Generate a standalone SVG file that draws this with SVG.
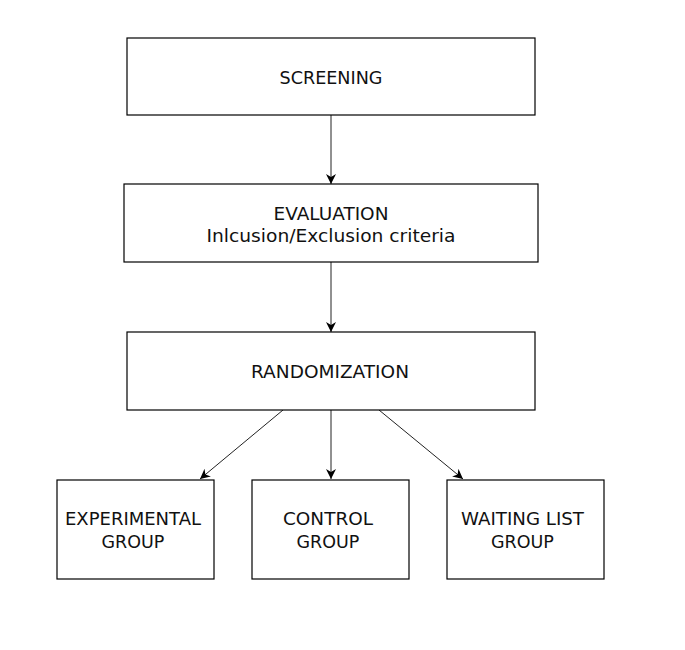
<svg xmlns="http://www.w3.org/2000/svg" width="685" height="650" viewBox="0 0 685 650">
<style>
.box{fill:#fff;stroke:#000;stroke-width:1.2}
.t{font-family:"DejaVu Sans",sans-serif;font-size:17.5px;fill:#111;text-anchor:middle}
.c{stroke:#222;stroke-width:1;fill:none;marker-end:url(#ah)}
</style>
<defs>
<marker id="ah" viewBox="0 0 10 10" refX="10" refY="5" markerWidth="10" markerHeight="10" markerUnits="userSpaceOnUse" orient="auto">
<path d="M0,0 L10,5 L0,10 L3,5 Z" fill="#000"/>
</marker>
</defs>
<rect width="685" height="650" fill="#fff"/>
<g id="connectors">
<line class="c" x1="331" y1="115" x2="331" y2="184"/>
<line class="c" x1="331" y1="262" x2="331" y2="332"/>
<line class="c" x1="283" y1="410" x2="200" y2="479"/>
<line class="c" x1="331" y1="410" x2="331" y2="479"/>
<line class="c" x1="379" y1="410" x2="463" y2="479"/>
</g>
<g id="screening">
<rect class="box" x="127" y="38" width="408" height="77"/>
<text class="t" x="331" y="84" textLength="103" lengthAdjust="spacingAndGlyphs">SCREENING</text>
</g>
<g id="evaluation">
<rect class="box" x="124" y="184" width="414" height="78"/>
<text class="t" x="331" y="220" textLength="115" lengthAdjust="spacingAndGlyphs">EVALUATION</text>
<text class="t" x="331" y="242" textLength="249" lengthAdjust="spacingAndGlyphs">Inlcusion/Exclusion criteria</text>
</g>
<g id="randomization">
<rect class="box" x="127" y="332" width="408" height="78"/>
<text class="t" x="330" y="378" textLength="158" lengthAdjust="spacingAndGlyphs">RANDOMIZATION</text>
</g>
<g id="experimental">
<rect class="box" x="57" y="480" width="157" height="99"/>
<text class="t" x="133" y="525" textLength="136" lengthAdjust="spacingAndGlyphs">EXPERIMENTAL</text>
<text class="t" x="133" y="548">GROUP</text>
</g>
<g id="control">
<rect class="box" x="252" y="480" width="157" height="99"/>
<text class="t" x="328" y="525" textLength="90" lengthAdjust="spacingAndGlyphs">CONTROL</text>
<text class="t" x="328" y="548">GROUP</text>
</g>
<g id="waiting">
<rect class="box" x="447" y="480" width="157" height="99"/>
<text class="t" x="522.5" y="525" textLength="123" lengthAdjust="spacingAndGlyphs">WAITING LIST</text>
<text class="t" x="522.5" y="548">GROUP</text>
</g>
</svg>
